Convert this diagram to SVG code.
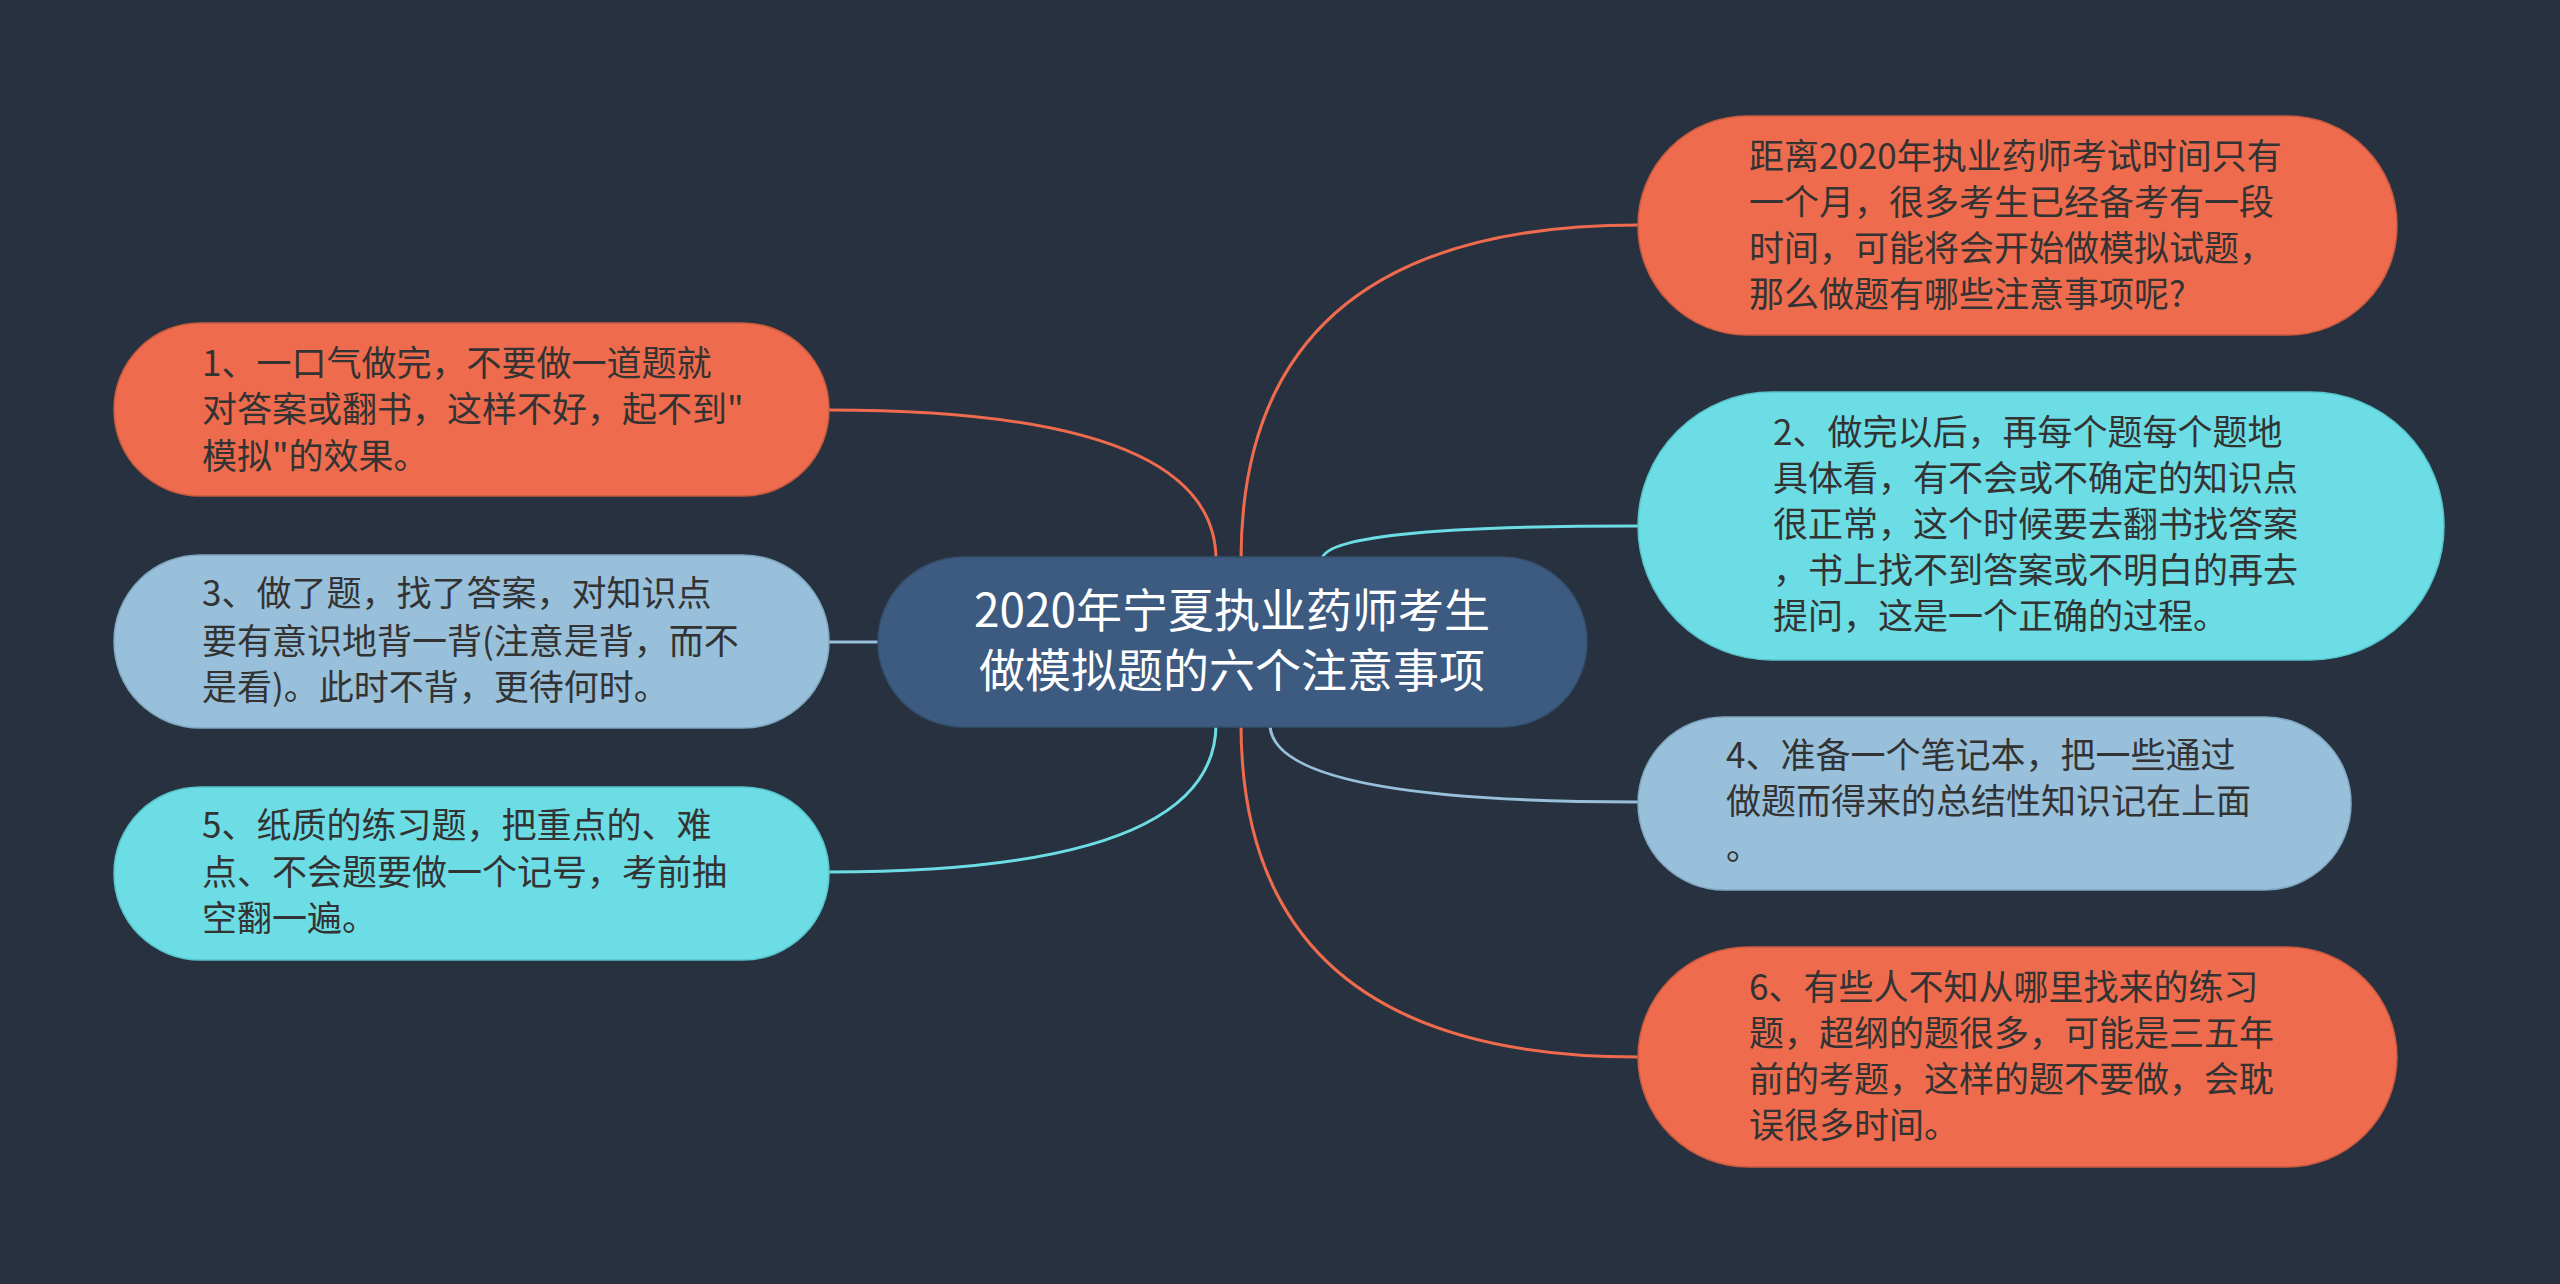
<svg xmlns="http://www.w3.org/2000/svg" width="2560" height="1284" viewBox="0 0 2560 1284">
<style>
.bg{fill:#283140}
.or{fill:#EE6B4D;stroke:#c85a40;stroke-width:1.5}
.lb{fill:#98C0DA;stroke:#7fa6c0;stroke-width:1.5}
.cy{fill:#6CDDE4;stroke:#56c3ca;stroke-width:1.5}
.ct{fill:#3D5A80;stroke:#34506f;stroke-width:1.5}
.t{font-family:"Noto Sans CJK SC","Noto Sans",sans-serif;font-size:35px;fill:#333333}
.tc{font-family:"Noto Sans CJK SC","Noto Sans",sans-serif;font-size:46px;fill:#ffffff;text-anchor:middle}
.c{fill:none;stroke-width:3}
</style>
<rect class="bg" x="0" y="0" width="2560" height="1284"/>
<g id="connectors">
<path class="c" stroke="#EE6B4D" d="M1216,560 Q1216,410 829,410"/>
<path class="c" stroke="#98C0DA" d="M882,642 L829,642"/>
<path class="c" stroke="#6CDDE4" d="M1216,724 Q1216,872 829,872"/>
<path class="c" stroke="#EE6B4D" d="M1241,560 Q1241,225 1638,225"/>
<path class="c" stroke="#6CDDE4" d="M1322,560 Q1322,526 1638,526"/>
<path class="c" stroke="#98C0DA" d="M1270,724 Q1270,802 1638,802"/>
<path class="c" stroke="#EE6B4D" d="M1241,724 Q1241,1057 1638,1057"/>
</g>
<g id="center">
<rect class="ct" x="878" y="557" width="709" height="170" rx="85"/>
<text class="tc" x="1232" y="627">2020年宁夏执业药师考生</text>
<text class="tc" x="1232" y="687">做模拟题的六个注意事项</text>
</g>
<g id="node1">
<rect class="or" x="114" y="323" width="715" height="173" rx="86"/>
<text class="t" x="202" y="376">1、一口气做完，不要做一道题就</text>
<text class="t" x="202" y="422">对答案或翻书，这样不好，起不到"</text>
<text class="t" x="202" y="469">模拟"的效果。</text>
</g>
<g id="node3">
<rect class="lb" x="114" y="555" width="715" height="173" rx="86"/>
<text class="t" x="202" y="606">3、做了题，找了答案，对知识点</text>
<text class="t" x="202" y="654">要有意识地背一背(注意是背，而不</text>
<text class="t" x="202" y="700">是看)。此时不背，更待何时。</text>
</g>
<g id="node5">
<rect class="cy" x="114" y="787" width="715" height="173" rx="86"/>
<text class="t" x="202" y="838">5、纸质的练习题，把重点的、难</text>
<text class="t" x="202" y="885">点、不会题要做一个记号，考前抽</text>
<text class="t" x="202" y="931">空翻一遍。</text>
</g>
<g id="intro">
<rect class="or" x="1638" y="116" width="759" height="219" rx="109"/>
<text class="t" x="1749" y="169">距离2020年执业药师考试时间只有</text>
<text class="t" x="1749" y="215">一个月，很多考生已经备考有一段</text>
<text class="t" x="1749" y="261">时间，可能将会开始做模拟试题，</text>
<text class="t" x="1749" y="307">那么做题有哪些注意事项呢?</text>
</g>
<g id="node2">
<rect class="cy" x="1638" y="392" width="806" height="268" rx="134"/>
<text class="t" x="1773" y="445">2、做完以后，再每个题每个题地</text>
<text class="t" x="1773" y="491">具体看，有不会或不确定的知识点</text>
<text class="t" x="1773" y="537">很正常，这个时候要去翻书找答案</text>
<text class="t" x="1773" y="583">，书上找不到答案或不明白的再去</text>
<text class="t" x="1773" y="629">提问，这是一个正确的过程。</text>
</g>
<g id="node4">
<rect class="lb" x="1638" y="717" width="713" height="173" rx="86"/>
<text class="t" x="1726" y="768">4、准备一个笔记本，把一些通过</text>
<text class="t" x="1726" y="814">做题而得来的总结性知识记在上面</text>
<text class="t" x="1726" y="860">。</text>
</g>
<g id="node6">
<rect class="or" x="1638" y="947" width="759" height="220" rx="110"/>
<text class="t" x="1749" y="1000">6、有些人不知从哪里找来的练习</text>
<text class="t" x="1749" y="1046">题，超纲的题很多，可能是三五年</text>
<text class="t" x="1749" y="1092">前的考题，这样的题不要做，会耽</text>
<text class="t" x="1749" y="1138">误很多时间。</text>
</g>
</svg>
